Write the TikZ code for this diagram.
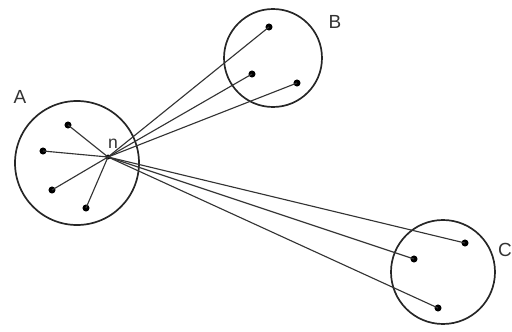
\documentclass[tikz,border=0pt]{standalone}
\usepackage{fontspec}
\setmainfont{Liberation Sans}
\begin{document}
\begin{tikzpicture}[x=0.5mm,y=-0.5mm,
  grp/.style={draw=black!85,line width=2.4pt},
  dot/.style={circle,fill=black,inner sep=0pt,minimum size=10pt},
  link/.style={draw=black!80,line width=1.6pt},
  lbl/.style={font=\fontsize{27}{32}\selectfont,text=black!80}]
\useasboundingbox (0,0) rectangle (512,331);
% group circles
\draw[grp] (77,163) circle[radius=62];
\draw[grp] (273,58) circle[radius=49];
\draw[grp] (443,272) circle[radius=52];
% labels
\node[lbl] (lA) at (20,97) {A};
\node[lbl] (lB) at (335,22) {B};
\node[lbl,anchor=east,inner sep=0pt] (lC) at (512,250) {C};
\node[lbl,font=\fontsize{25}{30}\selectfont] (ln) at (113,144) {n};
% central node
\node[dot,minimum size=7pt] (n) at (108,157) {};
% dots in A
\node[dot] (a1) at (68,125) {};
\node[dot] (a2) at (43,151) {};
\node[dot] (a3) at (52,190) {};
\node[dot] (a4) at (86,208) {};
% dots in B
\node[dot] (b1) at (269,27) {};
\node[dot] (b2) at (252,74) {};
\node[dot] (b3) at (297,83) {};
% dots in C
\node[dot] (c1) at (465,243) {};
\node[dot] (c2) at (414,259) {};
\node[dot] (c3) at (438,308) {};
% links
\foreach \t in {a1,a2,a3,a4,b1,b2,b3,c1,c2,c3}
  \draw[link] (n.center) -- (\t.center);
\end{tikzpicture}
\end{document}
